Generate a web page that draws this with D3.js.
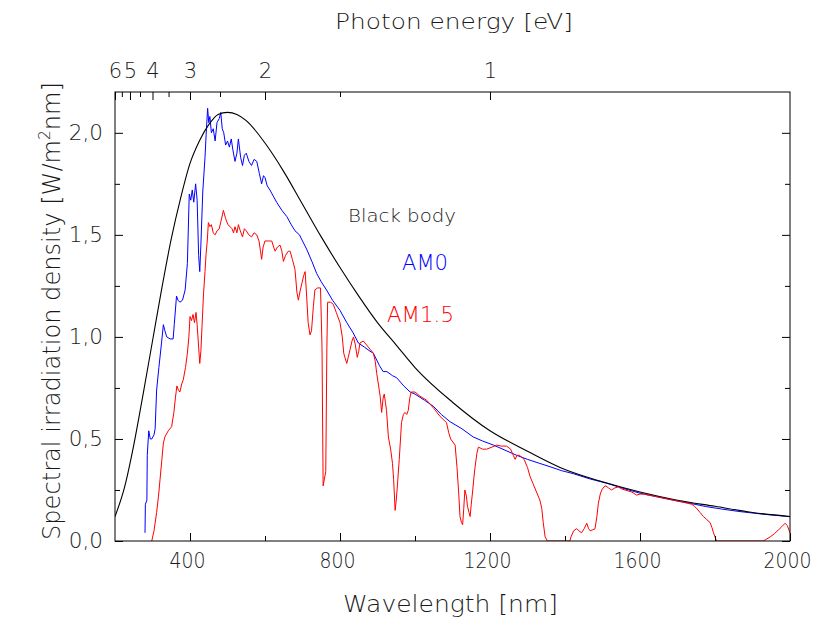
<!DOCTYPE html>
<html>
<head>
<meta charset="utf-8">
<script src="https://cdn.jsdelivr.net/npm/d3@7/dist/d3.min.js"></script>
<style>
  body { margin: 0; background: #fff; }
  text { font-family: "DejaVu Sans", "Liberation Sans", Arial, sans-serif; font-weight: 200; fill: #1a1a1a; }
</style>
</head>
<body>
<div id="graph"></div>
<script>
// wavelength [nm] and spectral irradiance [W/m2nm]
const bbWl  = [200,225,250,275,300,325,350,375,400,425,450,475,500,525,550,600,650,700,750,800,850,900,950,1000,1100,1200,1300,1400,1500,1600,1700,1800,1900,2000];
const bbVal = [0.12,0.26,0.47,0.72,0.98,1.24,1.48,1.68,1.85,1.96,2.04,2.09,2.10,2.09,2.06,1.95,1.81,1.65,1.49,1.34,1.20,1.07,0.96,0.85,0.68,0.54,0.44,0.35,0.29,0.24,0.20,0.17,0.14,0.12];

const am0Wl  = [280,281,285,286,290,294,298,304,307,311,317,324,329,333,338,347,355,358,364,368,373,380,387,393,398,402,406,410,415,419,423,426,429,434,440,443,447,450,453,457,462,467,472,478,482,486,490,495,500,505,510,514,520,525,529,535,540,545,550,557,564,571,578,585,591,596,600,606,613,622,631,645,658,670,680,692,700,711,725,738,750,764,780,800,818,835,849,865,880,889,905,915,925,940,951,970,987,1000,1025,1049,1070,1093,1125,1155,1180,1209,1240,1271,1300,1333,1360,1390,1422,1465,1511,1555,1600,1645,1689,1735,1778,1820,1867,1930,2000];
const am0Val = [0.04,0.18,0.20,0.42,0.54,0.50,0.50,0.52,0.55,0.74,0.85,0.97,1.06,1.03,1.00,0.99,0.99,1.06,1.20,1.18,1.17,1.18,1.23,1.36,1.70,1.67,1.72,1.66,1.75,1.67,1.40,1.32,1.45,1.71,1.88,1.99,2.12,2.05,2.08,2.00,2.02,1.96,2.05,2.07,2.10,2.02,2.00,1.94,1.96,1.93,1.97,1.92,1.86,1.90,1.97,1.88,1.84,1.89,1.90,1.86,1.84,1.87,1.86,1.80,1.75,1.79,1.78,1.74,1.72,1.69,1.66,1.62,1.59,1.55,1.52,1.50,1.47,1.43,1.37,1.31,1.27,1.23,1.18,1.13,1.07,1.02,0.97,0.95,0.93,0.92,0.86,0.83,0.83,0.81,0.80,0.76,0.73,0.72,0.69,0.66,0.62,0.585,0.55,0.51,0.49,0.47,0.445,0.42,0.40,0.38,0.364,0.345,0.33,0.305,0.283,0.258,0.234,0.217,0.20,0.184,0.168,0.156,0.144,0.131,0.119];

const am15Wl  = [298,304,311,316,320,325,329,333,342,351,357,361,365,369,373,378,382,388,393,397,400,404,408,412,416,419,423,426,429,432,436,440,443,446,449,453,457,462,467,472,478,483,489,495,501,507,512,516,520,525,529,534,540,545,550,557,564,571,578,584,588,591,595,600,610,618,623,627,633,640,645,649,655,662,667,673,680,685,689,693,698,703,707,711,715,720,724,729,733,740,748,752,755,758,762,765,767,775,782,790,800,806,810,813,818,822,827,832,836,841,846,850,853,862,871,880,889,894,898,903,907,911,915,918,921,924,929,935,940,943,947,950,953,958,964,969,973,978,982,986,990,1000,1013,1031,1050,1067,1084,1090,1095,1107,1112,1116,1120,1124,1127,1130,1133,1137,1140,1144,1147,1150,1154,1157,1160,1165,1169,1180,1191,1205,1218,1230,1244,1255,1262,1267,1272,1278,1285,1291,1300,1307,1315,1324,1333,1338,1342,1347,1353,1413,1416,1423,1431,1437,1444,1451,1458,1463,1467,1474,1480,1485,1489,1494,1498,1504,1509,1516,1524,1533,1542,1551,1560,1569,1578,1591,1600,1609,1622,1636,1649,1662,1675,1689,1702,1715,1727,1738,1745,1751,1760,1769,1778,1787,1792,1796,1800,1804,1929,1938,1947,1958,1969,1978,1987,1993,1998,2000];
const am15Val = [0.0,0.05,0.14,0.22,0.30,0.40,0.48,0.51,0.54,0.56,0.63,0.70,0.76,0.74,0.73,0.77,0.79,0.85,0.92,1.00,1.10,1.08,1.11,1.07,1.12,1.06,0.95,0.87,0.93,1.05,1.21,1.32,1.41,1.47,1.56,1.54,1.55,1.51,1.50,1.52,1.53,1.57,1.62,1.58,1.55,1.54,1.53,1.51,1.54,1.51,1.55,1.52,1.49,1.53,1.52,1.50,1.49,1.51,1.50,1.47,1.42,1.38,1.44,1.47,1.47,1.47,1.44,1.42,1.44,1.45,1.42,1.37,1.40,1.42,1.42,1.38,1.33,1.22,1.18,1.22,1.26,1.30,1.32,1.20,1.07,1.01,1.03,1.15,1.23,1.24,1.24,0.95,0.27,0.30,0.34,0.95,1.17,1.17,1.16,1.12,1.07,1.00,0.92,0.90,0.87,0.90,0.94,0.98,1.00,0.96,0.90,0.93,0.97,0.98,0.96,0.94,0.92,0.88,0.82,0.76,0.71,0.63,0.70,0.72,0.68,0.64,0.51,0.45,0.38,0.30,0.15,0.20,0.27,0.40,0.58,0.62,0.63,0.62,0.64,0.70,0.73,0.73,0.71,0.69,0.65,0.61,0.58,0.53,0.50,0.47,0.36,0.25,0.12,0.09,0.08,0.16,0.25,0.22,0.17,0.14,0.12,0.18,0.25,0.31,0.36,0.43,0.46,0.45,0.45,0.46,0.47,0.465,0.465,0.45,0.42,0.40,0.42,0.42,0.41,0.40,0.36,0.315,0.28,0.24,0.20,0.16,0.09,0.02,0.0,0.0,0.02,0.05,0.06,0.05,0.04,0.06,0.087,0.06,0.05,0.055,0.06,0.12,0.185,0.23,0.25,0.265,0.27,0.26,0.25,0.26,0.265,0.255,0.25,0.245,0.24,0.225,0.23,0.23,0.225,0.22,0.215,0.21,0.205,0.20,0.195,0.19,0.185,0.18,0.17,0.16,0.14,0.12,0.105,0.09,0.065,0.04,0.02,0.0,0.0,0.01,0.02,0.035,0.054,0.07,0.087,0.075,0.05,0.04];

// axis ticks
const xMajor = [400,800,1200,1600,2000];
const xMinor = [600,1000,1400,1800];
const yMajor = [0,0.5,1,1.5,2];
const yMinor = [0.25,0.75,1.25,1.75];
const yLabels = ['0,0','0,5','1,0','1,5','2,0'];
const eMajor = [6,5,4,3,2,1];
const eMinor = [5.5,4.5,3.5,2.5,1.5];

const w = 814, h = 622;
const pL = 115, pR = 790, pT = 92, pB = 541;
const font = '"DejaVu Sans", "Liberation Sans", Arial, sans-serif';

const xScale = d3.scaleLinear().domain([200,2000]).range([pL,pR]);
const yScale = d3.scaleLinear().domain([0,2.2]).range([pB,pT]);
const eToWl = e => 1200 / e;

const svg = d3.select('#graph').append('svg')
  .attr('width',w).attr('height',h);

svg.append('defs').append('clipPath').attr('id','plot')
  .append('rect').attr('x',pL).attr('y',pT).attr('width',pR-pL).attr('height',pB-pT);

const line = d3.line().x(d=>xScale(d[0])).y(d=>yScale(d[1]));
const zip = (a,b) => a.map((v,i)=>[v,b[i]]);

const plot = svg.append('g').attr('clip-path','url(#plot)');
plot.append('path').datum(zip(am0Wl,am0Val)).attr('d',line)
  .attr('fill','none').attr('stroke','#0000ff').attr('stroke-width',1);
plot.append('path').datum(zip(bbWl,bbVal)).attr('d',line.curve(d3.curveMonotoneX))
  .attr('fill','none').attr('stroke','#000').attr('stroke-width',1.1);
line.curve(d3.curveLinear);
plot.append('path').datum(zip(am15Wl,am15Val)).attr('d',line)
  .attr('fill','none').attr('stroke','#ff0000').attr('stroke-width',1);

// axes, ticks pointing inwards
function styleAxis(g, fs){
  g.select('.domain').remove();
  g.selectAll('.tick line').attr('stroke','#000');
  g.selectAll('.tick text').style('font-size',fs).attr('fill','#1a1a1a')
    .style('font-family',font).style('font-weight',200);
}

svg.append('g').attr('transform',`translate(0,${pB})`)
  .call(d3.axisBottom(xScale).tickValues(xMajor).tickSize(-8).tickPadding(12).tickFormat(d3.format('d')))
  .call(g=>styleAxis(g,'20.5px'))
  .call(g=>g.selectAll('.tick text').attr('dx',-3)
    .attr('textLength',d=>String(d).length*12).attr('lengthAdjust','spacingAndGlyphs'));
svg.append('g').attr('transform',`translate(0,${pB})`)
  .call(d3.axisBottom(xScale).tickValues(xMinor).tickSize(-5).tickFormat(''))
  .call(g=>styleAxis(g,'20.5px'));

svg.append('g').attr('transform',`translate(${pL},0)`)
  .call(d3.axisLeft(yScale).tickValues(yMajor).tickSize(-8).tickPadding(12).tickFormat((d,i)=>yLabels[i]))
  .call(g=>styleAxis(g,'21.5px'));
svg.append('g').attr('transform',`translate(${pL},0)`)
  .call(d3.axisLeft(yScale).tickValues(yMinor).tickSize(-5).tickFormat(''))
  .call(g=>styleAxis(g,'21.5px'));

svg.append('g').attr('transform',`translate(${pR},0)`)
  .call(d3.axisRight(yScale).tickValues(yMajor).tickSize(-8).tickFormat(''))
  .call(g=>styleAxis(g,'21.5px'));
svg.append('g').attr('transform',`translate(${pR},0)`)
  .call(d3.axisRight(yScale).tickValues(yMinor).tickSize(-5).tickFormat(''))
  .call(g=>styleAxis(g,'21.5px'));

svg.append('g').attr('transform',`translate(0,${pT})`)
  .call(d3.axisTop(xScale).tickValues(eMajor.map(eToWl)).tickSize(-8).tickPadding(14).tickFormat((d,i)=>eMajor[i]))
  .call(g=>styleAxis(g,'21px'));
svg.append('g').attr('transform',`translate(0,${pT})`)
  .call(d3.axisTop(xScale).tickValues(eMinor.map(eToWl)).tickSize(-5).tickFormat(''))
  .call(g=>styleAxis(g,'21px'));

svg.append('rect').attr('x',pL).attr('y',pT).attr('width',pR-pL).attr('height',pB-pT)
  .attr('fill','none').attr('stroke','#000').attr('stroke-width',1);

// titles
svg.append('text').attr('x',335).attr('y',29)
  .attr('textLength',238).attr('lengthAdjust','spacingAndGlyphs')
  .style('font-size','21px').text('Photon energy [eV]');

svg.append('text').attr('x',343).attr('y',612)
  .attr('textLength',215).attr('lengthAdjust','spacingAndGlyphs')
  .style('font-size','23px').text('Wavelength [nm]');

const yt = svg.append('text').attr('transform','translate(60,540) rotate(-90)')
  .attr('x',0).attr('y',0)
  .attr('textLength',458).attr('lengthAdjust','spacingAndGlyphs')
  .style('font-size','25px');
yt.append('tspan').text('Spectral irradiation density [W/m');
yt.append('tspan').attr('dy',-10).style('font-size','16px').text('2');
yt.append('tspan').attr('dy',10).text('nm]');

// curve labels
svg.append('text').attr('x',348).attr('y',221.5)
  .attr('textLength',108).attr('lengthAdjust','spacingAndGlyphs')
  .style('font-size','18px').text('Black body');
svg.append('text').attr('x',402).attr('y',269.5)
  .attr('textLength',46).attr('lengthAdjust','spacingAndGlyphs')
  .style('font-size','22px').style('fill','#0000ff').text('AM0');
svg.append('text').attr('x',387).attr('y',321.5)
  .attr('textLength',67).attr('lengthAdjust','spacingAndGlyphs')
  .style('font-size','22px').style('fill','#ff0000').text('AM1.5');
</script>
</body>
</html>
